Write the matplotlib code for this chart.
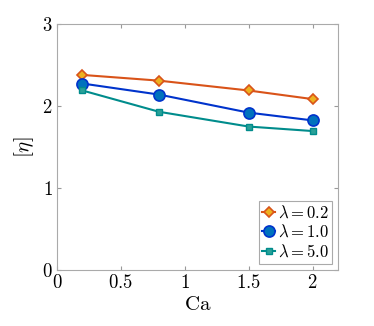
import matplotlib
matplotlib.use('Agg')
import matplotlib.pyplot as plt

plt.rcParams['mathtext.fontset'] = 'cm'
plt.rcParams['font.family'] = 'serif'
plt.rcParams['font.serif'] = ['DejaVu Serif']

# Data
ca = [0.2, 0.8, 1.5, 2.0]
eta_02 = [2.38, 2.31, 2.19, 2.085]
eta_10 = [2.275, 2.14, 1.92, 1.825]
eta_50 = [2.19, 1.93, 1.75, 1.695]
labels = [r'$\lambda = 0.2$', r'$\lambda = 1.0$', r'$\lambda = 5.0$']
xticks = [0, 0.5, 1, 1.5, 2]
yticks = [0, 1, 2, 3]

fig = plt.figure(figsize=(3.74, 3.26), dpi=100)
ax = fig.add_axes([0.152, 0.172, 0.752, 0.754])

ax.plot(ca, eta_02, color='#D95319', lw=1.5, marker='D', ms=5,
        mfc='#EDB120', mec='#D95319', mew=1.2, label=labels[0])
ax.plot(ca, eta_10, color='#0033CC', lw=1.5, marker='o', ms=8,
        mfc='#0072BD', mec='#0033CC', mew=1.2, label=labels[1])
ax.plot(ca, eta_50, color='#008C8C', lw=1.5, marker='s', ms=4,
        mfc='#2AA198', mec='#008C8C', label=labels[2])

ax.set_xlim(0, 2.2)
ax.set_ylim(0, 3)
ax.set_xticks(xticks)
ax.set_xticklabels([r'$%g$' % t for t in xticks], fontsize=13.5)
ax.set_yticks(yticks)
ax.set_yticklabels([r'$%g$' % t for t in yticks], fontsize=13.5)
ax.tick_params(direction='in', top=True, right=True, length=3,
               color='#999999', pad=3)
for s in ax.spines.values():
    s.set_color('#AAAAAA')
    s.set_linewidth(0.8)

ax.set_xlabel(r'$\mathrm{Ca}$', fontsize=15, labelpad=2)
ax.set_ylabel(r'$[\eta]$', fontsize=15, labelpad=4)

leg = ax.legend(loc='lower right', fontsize=12, handlelength=0.8,
                handletextpad=0.15, borderpad=0.2, labelspacing=0.15,
                borderaxespad=0.35, fancybox=False, framealpha=1)
leg.get_frame().set_edgecolor('#AAAAAA')
leg.get_frame().set_linewidth(0.8)

fig.savefig('out.png', dpi=100)
